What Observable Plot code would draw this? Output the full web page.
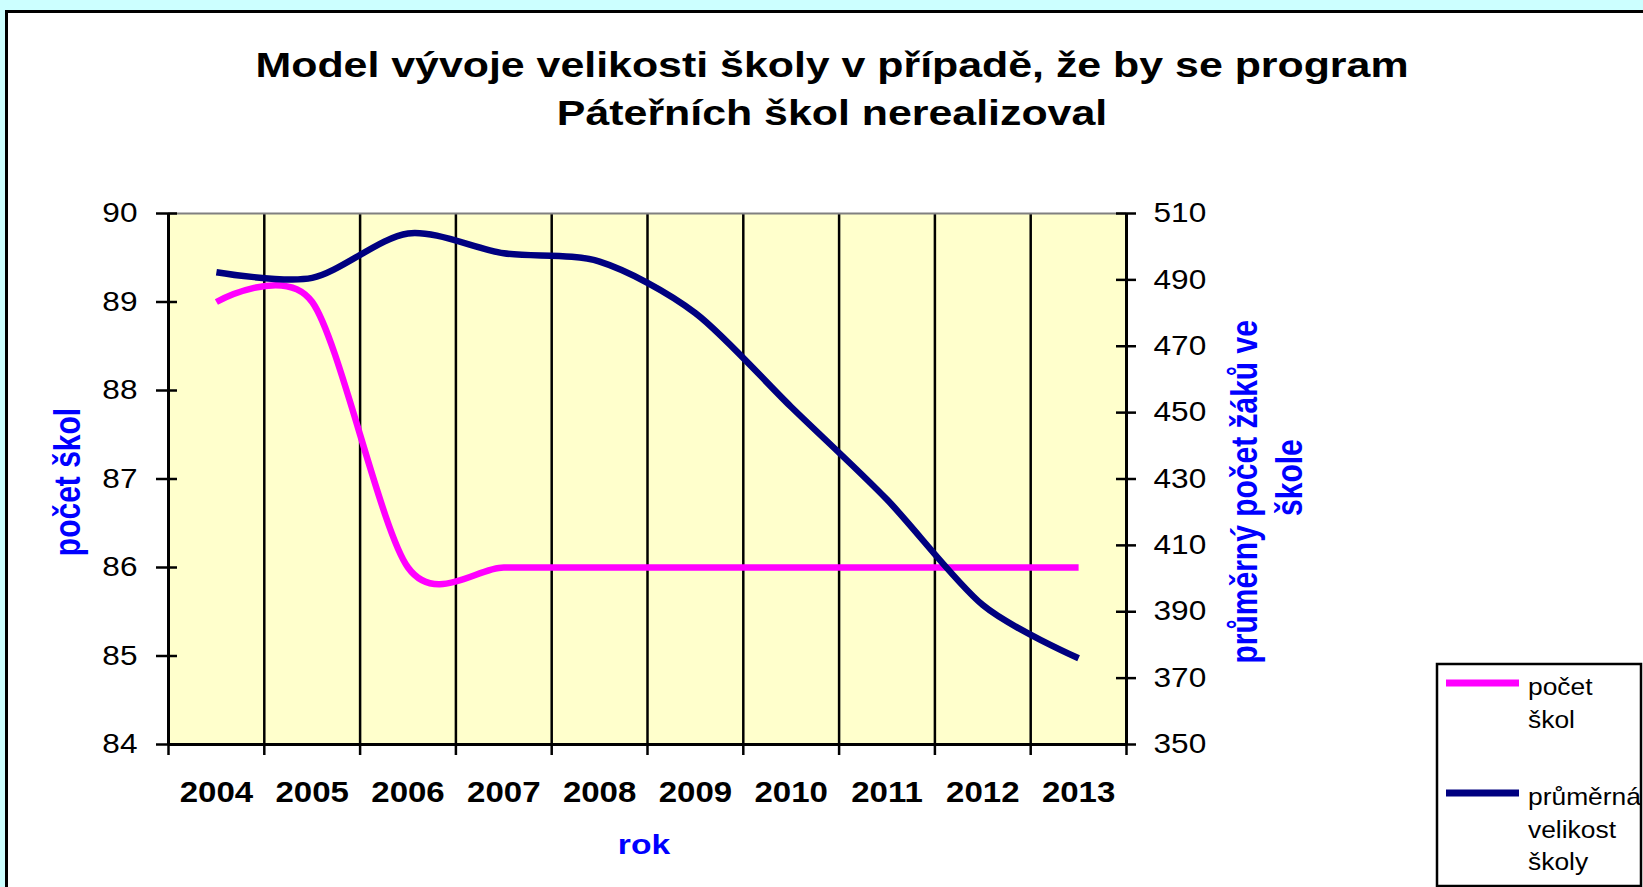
<!DOCTYPE html>
<html>
<head>
<meta charset="utf-8">
<script src="https://cdn.jsdelivr.net/npm/d3@7"></script>
<script src="https://cdn.jsdelivr.net/npm/@observablehq/plot@0.6"></script>
<style>
  html, body { margin: 0; padding: 0; background: #ccffff; overflow: hidden; width: 1643px; height: 887px; }
  #panel { position: absolute; left: 5px; top: 10px; width: 1700px; height: 1000px; border: 3px solid #000; background: #fff; }
  #chart { position: absolute; left: 0; top: 0; }
  #overlay { position: absolute; left: 0; top: 0; }
</style>
</head>
<body>
<div id="panel"></div>
<div id="chart"></div>
<svg id="overlay" width="1643" height="887"></svg>
<script>
// ---- data ----
const years = [2004, 2005, 2006, 2007, 2008, 2009, 2010, 2011, 2012, 2013];
const pocetSkol = [89.0, 89.0, 86.0, 86.0, 86.0, 86.0, 86.0, 86.0, 86.0, 86.0];
const prumernaVelikost = [492.3, 490.6, 504.0, 498.0, 495.5, 480.0, 451.7, 423.8, 392.0, 376.0];
const leftTicks = [84, 85, 86, 87, 88, 89, 90];
const rightTicks = [350, 370, 390, 410, 430, 450, 470, 490, 510];
const seriesNames = [["počet", "škol"], ["průměrná", "velikost", "školy"]];
const seriesColors = ["#ff00ff", "#000080"];
const titleLines = ["Model vývoje velikosti školy v případě, že by se program", "Páteřních škol nerealizoval"];
const xTitle = "rok";
const yLeftTitle = "počet škol";
const yRightTitleLines = ["průměrný počet žáků ve", "škole"];

const FONT = "'Liberation Sans', Arial, Helvetica, sans-serif";
const AXIS_TITLE_COLOR = "#0000ff";

// right axis (350–510) mapped onto the left scale (84–90)
const L0 = leftTicks[0], L1 = leftTicks[leftTicks.length - 1];
const R0 = rightTicks[0], R1 = rightTicks[rightTicks.length - 1];
const toLeft = v => L0 + (v - R0) * (L1 - L0) / (R1 - R0);
const fromLeft = v => R0 + (v - L0) * (R1 - R0) / (L1 - L0);

const bounds = years.map(y => y - 0.5).concat([years[years.length - 1] + 0.5]);
const innerBounds = bounds.slice(1, -1);

const pinkData = years.map((y, i) => ({year: y, value: pocetSkol[i]}));
const navyData = years.map((y, i) => ({year: y, value: prumernaVelikost[i]}));

const plot = Plot.plot({
  width: 1643,
  height: 887,
  marginLeft: 168,
  marginRight: 517,
  marginTop: 213,
  marginBottom: 143,
  x: {type: "linear", domain: [bounds[0], bounds[bounds.length - 1]]},
  y: {domain: [L0, L1]},
  style: {background: "transparent", fontFamily: FONT, color: "black", overflow: "visible"},
  marks: [
    Plot.frame({fill: "#ffffcc", stroke: null}),
    Plot.ruleX(innerBounds, {stroke: "black", strokeWidth: 2.5}),
    Plot.ruleY([L1], {stroke: "#808080", strokeWidth: 2}),
    Plot.ruleY([L0], {stroke: "black", strokeWidth: 3}),
    Plot.ruleX([bounds[0], bounds[bounds.length - 1]], {stroke: "black", strokeWidth: 3}),
    Plot.line(pinkData, {x: "year", y: "value", stroke: seriesColors[0], strokeWidth: 6.5, curve: "cardinal", tension: 0.15, strokeLinecap: "butt", strokeLinejoin: "round"}),
    Plot.line(navyData, {x: "year", y: d => toLeft(d.value), stroke: seriesColors[1], strokeWidth: 6.5, curve: "cardinal", tension: 0.15, strokeLinecap: "butt", strokeLinejoin: "round"}),
    // left axis
    Plot.axisY({anchor: "left", ticks: leftTicks, tickSize: 21, dx: 9, tickFormat: () => "", strokeWidth: 2.5, label: null}),
    Plot.axisY({anchor: "left", ticks: leftTicks, tickSize: 0, tickPadding: 31, fontSize: 27, tickFormat: d => String(d), label: null}),
    // right axis
    Plot.axisY({anchor: "right", ticks: rightTicks.map(toLeft), tickSize: 20, dx: -11, tickFormat: () => "", strokeWidth: 2.5, label: null}),
    Plot.axisY({anchor: "right", ticks: rightTicks.map(toLeft), tickSize: 0, tickPadding: 27, fontSize: 27, tickFormat: v => String(Math.round(fromLeft(v))), label: null}),
    // bottom axis
    Plot.axisX({anchor: "bottom", ticks: bounds, tickSize: 11, tickFormat: () => "", strokeWidth: 2.5, label: null}),
    Plot.axisX({anchor: "bottom", ticks: years, tickSize: 0, tickPadding: 36, fontSize: 30, fontWeight: "bold", tickFormat: d => String(d), label: null})
  ]
});
document.getElementById("chart").appendChild(plot);

// the reference's text is horizontally widened; widen tick labels about their anchors
function widen(el, s) {
  const t = el.getAttribute("transform") || "";
  el.setAttribute("transform", `${t} scale(${s},1)`);
}
plot.querySelectorAll('g[aria-label="y-axis tick label"] text').forEach(t => widen(t, 1.17));
plot.querySelectorAll('g[aria-label="x-axis tick label"] text').forEach(t => widen(t, 1.1));

// ---- titles, axis titles and legend ----
const ov = d3.select("#overlay").attr("font-family", FONT);

titleLines.forEach((s, i) => {
  ov.append("text")
    .attr("transform", `translate(832,${77 + 48 * i}) scale(1.225,1)`)
    .attr("text-anchor", "middle")
    .attr("font-size", 35)
    .attr("font-weight", "bold")
    .attr("fill", "black")
    .text(s);
});

ov.append("text")
  .attr("transform", "translate(80,482) rotate(-90) scale(1,1.2)")
  .attr("text-anchor", "middle")
  .attr("font-size", 30)
  .attr("font-weight", "bold")
  .attr("fill", AXIS_TITLE_COLOR)
  .text(yLeftTitle);

const rightTitlePos = [[1257, 491.8], [1301.7, 477.6]];
yRightTitleLines.forEach((s, i) => {
  ov.append("text")
    .attr("transform", `translate(${rightTitlePos[i][0]},${rightTitlePos[i][1]}) rotate(-90) scale(1,1.2)`)
    .attr("text-anchor", "middle")
    .attr("font-size", 30)
    .attr("font-weight", "bold")
    .attr("fill", AXIS_TITLE_COLOR)
    .text(s);
});

ov.append("text")
  .attr("transform", "translate(644,854) scale(1.2,1)")
  .attr("text-anchor", "middle")
  .attr("font-size", 28)
  .attr("font-weight", "bold")
  .attr("fill", AXIS_TITLE_COLOR)
  .text(xTitle);

// legend
const lg = ov.append("g");
lg.append("rect").attr("x", 1437).attr("y", 664).attr("width", 204).attr("height", 222)
  .attr("fill", "white").attr("stroke", "black").attr("stroke-width", 2.5);
const legendLineY = [683, 793];
seriesNames.forEach((lines, i) => {
  lg.append("line").attr("x1", 1446).attr("x2", 1519)
    .attr("y1", legendLineY[i]).attr("y2", legendLineY[i])
    .attr("stroke", seriesColors[i]).attr("stroke-width", 7);
  lines.forEach((s, j) => {
    lg.append("text")
      .attr("transform", `translate(1528,${legendLineY[i] + 12 + 32.5 * j}) scale(1.1,1)`)
      .attr("font-size", 24)
      .attr("fill", "black")
      .text(s);
  });
});
</script>
</body>
</html>
